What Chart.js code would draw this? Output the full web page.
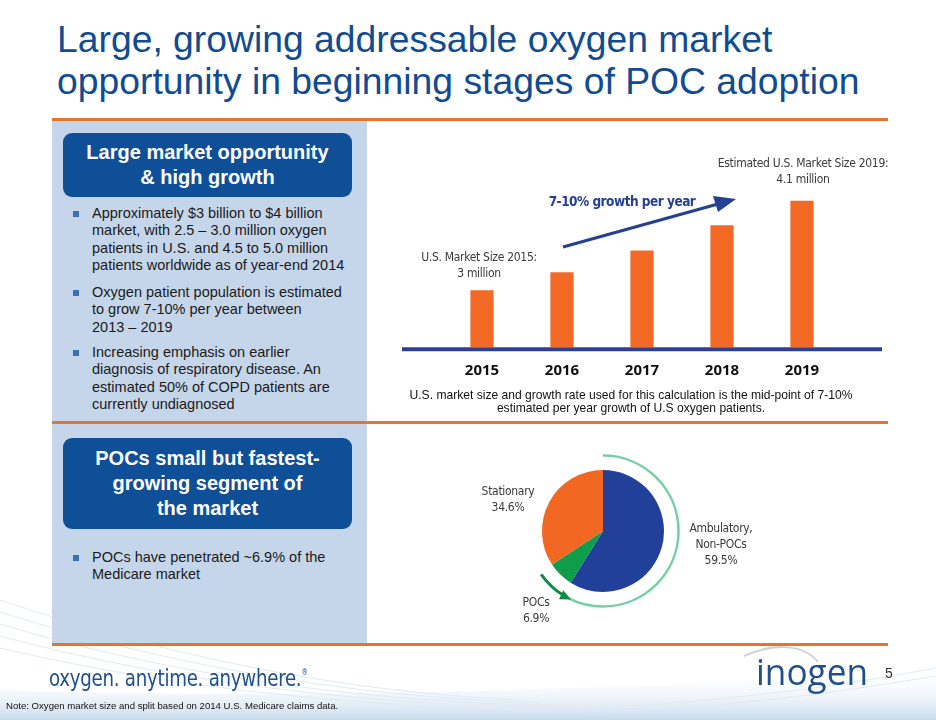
<!DOCTYPE html>
<html>
<head>
<meta charset="utf-8">
<script src="https://cdn.jsdelivr.net/npm/chart.js@4/dist/chart.umd.min.js"></script>
<style>
  html, body { margin: 0; padding: 0; }
  body { width: 936px; height: 720px; position: relative; overflow: hidden; background: #fff; font-family: "Liberation Sans", Arial, sans-serif; }
  .abs { position: absolute; }
  .title { left: 57px; top: 19px; font-size: 37.3px; line-height: 41.5px; color: #114b91; white-space: nowrap; }
  .rule { background: #e8732c; height: 3px; left: 52px; width: 836px; }
  .panel { background: #c6d6ea; left: 52px; width: 315px; }
  .box { left: 63px; width: 289px; background: #0f4f98; border-radius: 9px; color: #fff; font-weight: bold; font-size: 20px; text-align: center; display: flex; align-items: center; justify-content: center; }
  .bul { left: 92px; font-size: 14.5px; line-height: 17.4px; color: #1a1a1a; white-space: nowrap; }
  .bul::before { content: ""; position: absolute; left: -19px; top: 6px; width: 6px; height: 6px; background: #3b6fb6; }
  .lbl { font-family: "DejaVu Sans Condensed", "Liberation Sans Narrow", Roboto, sans-serif; font-size: 12px; letter-spacing: -0.3px; line-height: 16px; color: #3a3a3a; text-align: center; white-space: nowrap; transform: translateX(-50%); }
  .cap { left: 400px; width: 462px; text-align: center; font-size: 12.1px; line-height: 13px; color: #111; }
</style>
</head>
<body>
<svg class="abs" style="left:0;top:0" width="936" height="720">
  <defs>
    <linearGradient id="fade" x1="0" y1="0" x2="0" y2="1">
      <stop offset="0" stop-color="#ffffff" stop-opacity="0"/>
      <stop offset="1" stop-color="#c7dbee"/>
    </linearGradient>
  </defs>
  <path d="M0 690 C 300 700, 600 690, 936 670 L936 720 L0 720 Z" fill="url(#fade)"/>
  <g stroke="#e1eaf4" stroke-width="1" fill="none">
    <path d="M0 600 C 120 640, 300 690, 520 700"/>
    <path d="M0 612 C 120 650, 300 695, 540 703"/>
    <path d="M0 624 C 120 660, 300 700, 560 706"/>
    <path d="M0 636 C 120 668, 300 704, 580 709"/>
    <path d="M0 648 C 120 676, 300 708, 600 712"/>
    <path d="M600 712 C 750 706, 850 690, 936 676"/>
    <path d="M580 709 C 750 700, 850 684, 936 668"/>
  </g>
  <path d="M744 656 C 775 642, 805 645, 818 662" stroke="#c9d3de" stroke-width="2" fill="none"/>
</svg>

<div class="abs title">Large, growing addressable oxygen market<br>opportunity in beginning stages of POC adoption</div>

<div class="abs panel" style="top:121px;height:302px"></div>
<div class="abs panel" style="top:424px;height:219px"></div>
<div class="abs rule" style="top:118px"></div>
<div class="abs rule" style="top:421px"></div>
<div class="abs rule" style="top:643px"></div>

<div class="abs box" style="top:133px;height:64px;line-height:25px">Large market opportunity<br>&amp; high growth</div>
<div class="abs bul" style="top:205px">Approximately $3 billion to $4 billion<br>market, with 2.5 – 3.0 million oxygen<br>patients in U.S. and 4.5 to 5.0 million<br>patients worldwide as of year-end 2014</div>
<div class="abs bul" style="top:284px">Oxygen patient population is estimated<br>to grow 7-10% per year between<br>2013 – 2019</div>
<div class="abs bul" style="top:344px">Increasing emphasis on earlier<br>diagnosis of respiratory disease. An<br>estimated 50% of COPD patients are<br>currently undiagnosed</div>

<div class="abs box" style="top:438px;height:91px;line-height:25px">POCs small but fastest-<br>growing segment of<br>the market</div>
<div class="abs bul" style="top:549px">POCs have penetrated ~6.9% of the<br>Medicare market</div>

<canvas id="barChart" class="abs" style="left:400px;top:140px"></canvas>
<svg class="abs" style="left:0;top:0" width="936" height="720">
  <line x1="563" y1="247" x2="718" y2="204" stroke="#253f92" stroke-width="3"/>
  <polygon points="736,199 713,196 718,212" fill="#253f92"/>
</svg>
<div class="abs lbl" style="left:479px;top:249px">U.S. Market Size 2015:<br>3 million</div>
<div class="abs lbl" style="left:803px;top:155px">Estimated U.S. Market Size 2019:<br>4.1 million</div>
<div class="abs lbl" style="left:622px;top:192px;font-weight:bold;color:#253f92;font-size:13.5px;letter-spacing:-0.5px;line-height:18px">7-10% growth per year</div>
<div class="abs cap" style="top:389px">U.S. market size and growth rate used for this calculation is the mid-point of 7-10%<br>estimated per year growth of U.S oxygen patients.</div>

<canvas id="pieChart" class="abs" style="left:513px;top:441px"></canvas>
<div class="abs lbl" style="left:508px;top:483px">Stationary<br>34.6%</div>
<div class="abs lbl" style="left:721px;top:520px">Ambulatory,<br>Non-POCs<br>59.5%</div>
<div class="abs lbl" style="left:536px;top:594px">POCs<br>6.9%</div>

<div class="abs" style="left:49px;top:665px;font-family:'DejaVu Sans Condensed',sans-serif;font-size:23px;color:#1f4f8c;letter-spacing:-0.3px;white-space:nowrap;transform:scaleX(0.88);transform-origin:0 0">oxygen. anytime. anywhere.<sup style="font-size:8px;vertical-align:11px">®</sup></div>
<div class="abs" style="left:756px;top:652px;font-family:'Open Sans',sans-serif;font-size:37px;line-height:37px;color:#1f4f8c;white-space:nowrap;transform:scaleX(0.95);transform-origin:0 0">inogen</div>
<div class="abs" style="left:885px;top:665px;font-size:14px;color:#333">5</div>
<div class="abs" style="left:6px;top:700px;font-size:9.6px;color:#111">Note: Oxygen market size and split based on 2014 U.S. Medicare claims data.</div>

<script>
// Market size bars (millions of patients)
const years = ['2015', '2016', '2017', '2018', '2019'];
const marketSize = [3.0, 3.22, 3.49, 3.80, 4.1];

// Oxygen market split (%)
const segments = ['Ambulatory, Non-POCs', 'POCs', 'Stationary'];
const shares = [59.5, 6.9, 34.6];

const barCanvas = document.getElementById('barChart');
barCanvas.width = 488;
barCanvas.height = 265;

// blue baseline under the bars
const baseLine = {
  id: 'baseLine',
  afterDatasetsDraw(chart) {
    const ctx = chart.ctx;
    const y = chart.scales.y.bottom + 2.3;
    ctx.save();
    ctx.strokeStyle = '#2b3f93';
    ctx.lineWidth = 4;
    ctx.beginPath();
    ctx.moveTo(2, y);
    ctx.lineTo(482, y);
    ctx.stroke();
    ctx.restore();
  }
};

new Chart(barCanvas, {
  type: 'bar',
  data: {
    labels: years,
    datasets: [{
      data: marketSize,
      backgroundColor: '#f26a25',
      barPercentage: 0.29,
      categoryPercentage: 1
    }]
  },
  options: {
    responsive: false,
    animation: false,
    layout: { padding: { left: 42, right: 46, top: 36.5, bottom: 10 } },
    plugins: { legend: { display: false }, tooltip: { enabled: false } },
    scales: {
      x: {
        grid: { display: false, drawTicks: false },
        border: { display: false },
        ticks: { padding: 15, color: '#111', font: { family: 'Open Sans', weight: 'bold', size: 15 } }
      },
      y: { display: false, min: 2.3, max: 4.4 }
    }
  },
  plugins: [baseLine]
});

const pieCanvas = document.getElementById('pieChart');
pieCanvas.width = 180;
pieCanvas.height = 180;

// green ring and arrow around the pie
const ring = {
  id: 'ring',
  afterDraw(chart) {
    const arc = chart.getDatasetMeta(0).data[0];
    const cx = arc.x, cy = arc.y, r = arc.outerRadius + 14.5;
    const rad = d => (d - 90) * Math.PI / 180;
    const ctx = chart.ctx;
    ctx.save();
    ctx.lineWidth = 2.5;
    ctx.strokeStyle = '#74d0a2';
    ctx.beginPath();
    ctx.arc(cx, cy, r, rad(0), rad(207));
    ctx.stroke();
    ctx.strokeStyle = '#0f8d46';
    ctx.fillStyle = '#0f8d46';
    ctx.lineWidth = 3;
    ctx.beginPath();
    ctx.arc(cx, cy, r, rad(235), rad(212), true);
    ctx.stroke();
    const a = rad(205);
    const tx = cx + r * Math.cos(a), ty = cy + r * Math.sin(a);
    const dx = Math.sin(a), dy = -Math.cos(a);
    ctx.beginPath();
    ctx.moveTo(tx, ty);
    ctx.lineTo(tx - dx * 11 - dy * 5, ty - dy * 11 + dx * 5);
    ctx.lineTo(tx - dx * 11 + dy * 5, ty - dy * 11 - dx * 5);
    ctx.closePath();
    ctx.fill();
    ctx.restore();
  }
};

new Chart(pieCanvas, {
  type: 'pie',
  data: {
    labels: segments,
    datasets: [{
      data: shares,
      backgroundColor: ['#22409a', '#0f9d4b', '#f26722'],
      borderWidth: 0
    }]
  },
  options: {
    responsive: false,
    animation: false,
    layout: { padding: 29 },
    plugins: { legend: { display: false }, tooltip: { enabled: false } }
  },
  plugins: [ring]
});
</script>
</body>
</html>
